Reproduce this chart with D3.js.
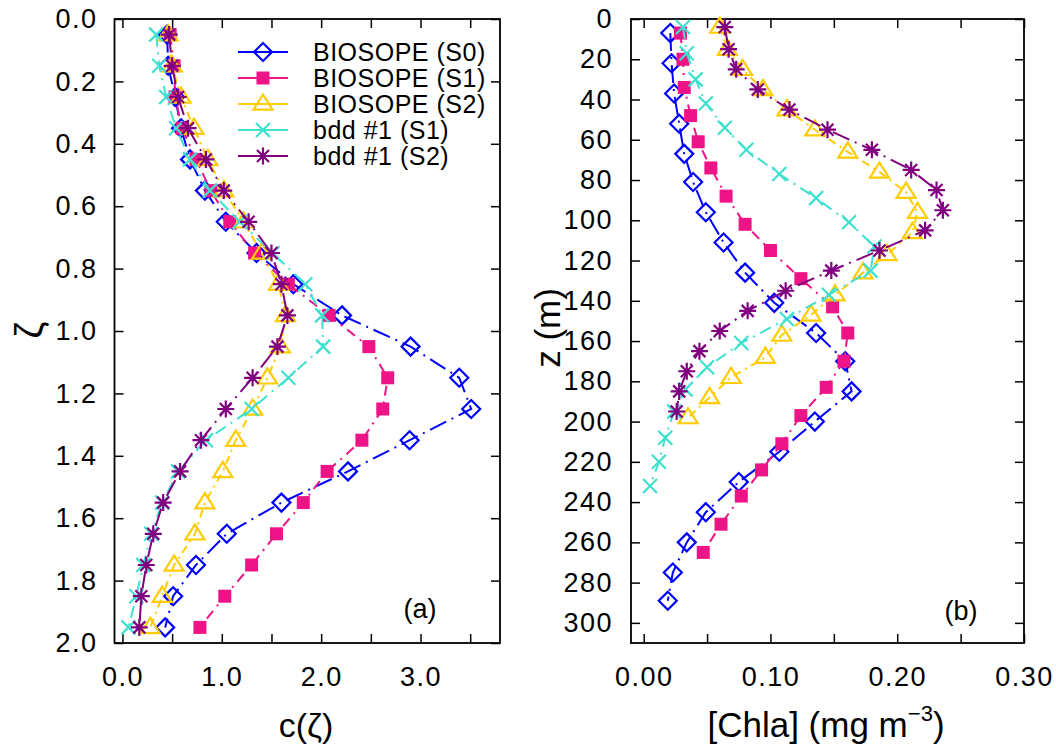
<!DOCTYPE html>
<html>
<head>
<meta charset="utf-8">
<script src="https://cdn.jsdelivr.net/npm/d3@7"></script>
<style>
  body { margin: 0; background: #fff; }
  text { font-family: "Liberation Sans", Arial, sans-serif; fill: #000; }
</style>
</head>
<body>
<div class="boundary"></div>
<script>
// ---- data, panel (a): normalised profiles c(zeta)
var zeta = [0.05, 0.15, 0.25, 0.35, 0.45, 0.55, 0.65, 0.75, 0.85, 0.95,
            1.05, 1.15, 1.25, 1.35, 1.45, 1.55, 1.65, 1.75, 1.85, 1.95];
var cS0   = [0.45, 0.46, 0.53, 0.59, 0.68, 0.83, 1.04, 1.35, 1.72, 2.21, 2.90, 3.39, 3.51, 2.89, 2.27, 1.60, 1.05, 0.74, 0.51, 0.43];
var cS1   = [0.48, 0.52, 0.53, 0.60, 0.74, 0.89, 1.08, 1.33, 1.67, 2.08, 2.48, 2.67, 2.62, 2.41, 2.06, 1.82, 1.55, 1.30, 1.03, 0.78];
var cS2   = [0.46, 0.50, 0.59, 0.72, 0.86, 1.02, 1.22, 1.40, 1.57, 1.64, 1.59, 1.46, 1.31, 1.14, 1.01, 0.83, 0.73, 0.52, 0.40, 0.28];
var cBdd1 = [0.34, 0.37, 0.44, 0.54, 0.68, 0.88, 1.18, 1.51, 1.84, 2.01, 2.02, 1.67, 1.30, 0.84, 0.56, 0.40, 0.29, 0.21, 0.14, 0.06];
var cBdd2 = [0.47, 0.50, 0.56, 0.66, 0.84, 1.02, 1.27, 1.50, 1.60, 1.66, 1.56, 1.31, 1.04, 0.79, 0.58, 0.41, 0.31, 0.24, 0.19, 0.17];

// ---- data, panel (b): [Chla] against depth
var zS0   = [7, 22, 37, 52, 67, 81, 96, 111, 126, 141, 156, 170, 185, 200, 215, 230, 245, 260, 275, 289];
var chlS0 = [0.021, 0.022, 0.024, 0.028, 0.032, 0.039, 0.049, 0.063, 0.080, 0.103, 0.136, 0.159, 0.164, 0.135, 0.107, 0.075, 0.049, 0.034, 0.023, 0.019];
var zS1   = [7, 20, 34, 48, 61, 74, 88, 102, 115, 129, 143, 156, 170, 183, 197, 211, 224, 237, 251, 265];
var chlS1 = [0.029, 0.031, 0.032, 0.037, 0.043, 0.053, 0.065, 0.080, 0.100, 0.124, 0.149, 0.161, 0.158, 0.144, 0.124, 0.109, 0.093, 0.077, 0.061, 0.047];
var zS2   = [4, 15, 25, 35, 45, 55, 66, 76, 86, 96, 106, 117, 126, 137, 147, 157, 168, 178, 188, 198];
var chlS2 = [0.060, 0.066, 0.078, 0.094, 0.113, 0.135, 0.161, 0.186, 0.207, 0.216, 0.212, 0.192, 0.173, 0.151, 0.132, 0.109, 0.096, 0.069, 0.052, 0.035];
var zBdd1   = [4, 17, 30, 42, 54, 65, 77, 89, 101, 113, 125, 137, 149, 161, 173, 184, 195, 208, 220, 232];
var chlBdd1 = [0.031, 0.034, 0.041, 0.049, 0.064, 0.081, 0.107, 0.136, 0.162, 0.182, 0.179, 0.146, 0.113, 0.077, 0.050, 0.033, 0.024, 0.017, 0.012, 0.005];
var zBdd2   = [4, 15, 25, 35, 45, 55, 65, 75, 85, 95, 105, 115, 125, 135, 145, 155, 165, 175, 185, 195];
var chlBdd2 = [0.064, 0.067, 0.073, 0.090, 0.115, 0.145, 0.180, 0.211, 0.231, 0.236, 0.222, 0.186, 0.148, 0.112, 0.082, 0.060, 0.044, 0.034, 0.028, 0.026];

var names = ["BIOSOPE (S0)", "BIOSOPE (S1)", "BIOSOPE (S2)", "bdd #1 (S1)", "bdd #1 (S2)"];

var ticksAx = [0, 0.5, 1, 1.5, 2, 2.5, 3, 3.5];
var ticksAy = [0, 0.2, 0.4, 0.6, 0.8, 1.0, 1.2, 1.4, 1.6, 1.8, 2.0];
var ticksBx = [0, 0.05, 0.10, 0.15, 0.20, 0.25, 0.30];
var ticksBy = [0, 20, 40, 60, 80, 100, 120, 140, 160, 180, 200, 220, 240, 260, 280, 300];

// ---- styles per series
var styles = [
  {color: "#0000ff", dash: "18,6,2,6",   marker: "diamond"},
  {color: "#ee1487", dash: "10,6,2,6",   marker: "square"},
  {color: "#ffcc00", dash: "8,5,2,5",    marker: "triangle"},
  {color: "#40e0d0", dash: "12,6,2,6",   marker: "cross"},
  {color: "#800080", dash: "18,6,2,6",   marker: "star"}
];

var width = 1056, height = 747;
var svg = d3.select(".boundary").append("svg")
  .attr("width", width).attr("height", height)
  .style("display", "block");

function markerPath(type) {
  var p = d3.path();
  if (type == "diamond") {
    var r = 9;
    p.moveTo(0, -r); p.lineTo(r, 0); p.lineTo(0, r); p.lineTo(-r, 0); p.closePath();
  } else if (type == "square") {
    var s = 6.5;
    p.rect(-s, -s, 2*s, 2*s);
  } else if (type == "triangle") {
    var r = 9.5;
    p.moveTo(0, -r); p.lineTo(r, r*0.6); p.lineTo(-r, r*0.6); p.closePath();
  } else if (type == "cross") {
    var r = 7;
    p.moveTo(-r, -r); p.lineTo(r, r); p.moveTo(-r, r); p.lineTo(r, -r);
  } else if (type == "star") {
    var r = 8.5, d = 6;
    p.moveTo(-r, 0); p.lineTo(r, 0); p.moveTo(0, -r); p.lineTo(0, r);
    p.moveTo(-d, -d); p.lineTo(d, d); p.moveTo(-d, d); p.lineTo(d, -d);
  }
  return p.toString();
}

function drawMarker(sel, st) {
  sel.append("path").attr("d", markerPath(st.marker))
    .attr("fill", st.marker == "square" ? st.color : "none")
    .attr("stroke", st.marker == "square" ? "none" : st.color)
    .attr("stroke-width", 2.2);
}

function panel(opts) {
  var x = d3.scaleLinear().domain(opts.xdom).range([opts.left, opts.right]);
  var y = d3.scaleLinear().domain(opts.ydom).range([opts.top, opts.bottom]);
  var g = svg.append("g");

  // axes with inward ticks, mirrored on top and right
  g.append("g").attr("transform", "translate(0," + opts.bottom + ")")
    .call(d3.axisBottom(x).tickValues(opts.xticks).tickSize(-9).tickPadding(24).tickFormat(opts.xfmt));
  g.append("g").attr("transform", "translate(0," + opts.top + ")")
    .call(d3.axisTop(x).tickValues(opts.xticks).tickSize(-9).tickFormat(""));
  g.append("g").attr("transform", "translate(" + opts.left + ",0)")
    .call(d3.axisLeft(y).tickValues(opts.yticks).tickSize(-9).tickPadding(opts.ypad).tickFormat(opts.yfmt));
  g.append("g").attr("transform", "translate(" + opts.right + ",0)")
    .call(d3.axisRight(y).tickValues(opts.yticks).tickSize(-9).tickFormat(""));
  g.selectAll(".domain").remove();
  g.selectAll(".tick line").attr("stroke", "#000").attr("stroke-width", 1.5);
  g.selectAll(".tick text").style("font-size", "27px").style("letter-spacing", "1.5px")
    .attr("fill", "#000")
    .style("font-family", "'Liberation Sans', Arial, sans-serif");

  g.append("rect").attr("x", opts.left).attr("y", opts.top)
    .attr("width", opts.right - opts.left).attr("height", opts.bottom - opts.top)
    .attr("fill", "none").attr("stroke", "#000").attr("stroke-width", 1.8);

  var line = d3.line().x(function(d){ return x(d[0]); }).y(function(d){ return y(d[1]); });

  opts.series.forEach(function(s, i) {
    var st = styles[i];
    var pts = s.xs.map(function(v, k){ return [v, s.ys[k]]; });
    g.append("path").datum(pts).attr("d", line)
      .attr("fill", "none").attr("stroke", st.color).attr("stroke-width", 2)
      .attr("stroke-dasharray", st.dash);
    g.append("g").selectAll("g").data(pts).enter().append("g")
      .attr("transform", function(d){ return "translate(" + x(d[0]) + "," + y(d[1]) + ")"; })
      .each(function(){ drawMarker(d3.select(this), st); });
  });

  g.append("text").attr("x", opts.tagX).attr("y", opts.tagY)
    .attr("text-anchor", "middle").style("font-size", "27px").text(opts.tag);
  return g;
}

panel({
  left: 114.5, right: 500, top: 19, bottom: 643,
  xdom: [-0.08, 3.8], ydom: [0, 2],
  xticks: ticksAx, yticks: ticksAy, ypad: 17,
  xfmt: function(d){ return Number.isInteger(d) ? d3.format(".1f")(d) : ""; },
  yfmt: d3.format(".1f"),
  series: [
    {xs: cS0, ys: zeta}, {xs: cS1, ys: zeta}, {xs: cS2, ys: zeta},
    {xs: cBdd1, ys: zeta}, {xs: cBdd2, ys: zeta}
  ],
  tag: "(a)", tagX: 420, tagY: 618
});

panel({
  left: 631, right: 1024, top: 19, bottom: 643,
  xdom: [-0.01, 0.30], ydom: [0, 310],
  xticks: ticksBx, yticks: ticksBy, ypad: 18,
  xfmt: function(d){ return Math.round(d*100) % 10 == 0 ? d3.format(".2f")(d) : ""; },
  yfmt: d3.format("d"),
  series: [
    {xs: chlS0, ys: zS0}, {xs: chlS1, ys: zS1}, {xs: chlS2, ys: zS2},
    {xs: chlBdd1, ys: zBdd1}, {xs: chlBdd2, ys: zBdd2}
  ],
  tag: "(b)", tagX: 961, tagY: 620
});

// legend (panel a)
var legend = svg.append("g").attr("transform", "translate(238,52)")
  .selectAll("g").data(names).enter().append("g")
  .attr("transform", function(d, i){ return "translate(0," + i*26 + ")"; });
legend.append("line").attr("x1", 0).attr("x2", 50).attr("y1", 0).attr("y2", 0)
  .attr("stroke", function(d, i){ return styles[i].color; }).attr("stroke-width", 2);
legend.append("g").attr("transform", "translate(25,0)")
  .each(function(d, i){ drawMarker(d3.select(this), styles[i]); });
legend.append("text").attr("x", 75).attr("y", 9).style("font-size", "25px")
  .style("letter-spacing", "0.5px")
  .text(function(d){ return d; });

// axis titles
svg.append("text").attr("transform", "translate(42,330) rotate(-90)")
  .attr("text-anchor", "middle").style("font-size", "38px").text("ζ");
svg.append("text").attr("x", 306).attr("y", 737)
  .attr("text-anchor", "middle").style("font-size", "34px").text("c(ζ)");
svg.append("text").attr("transform", "translate(560,328) rotate(-90)")
  .attr("text-anchor", "middle").style("font-size", "35px").text("z (m)");
var xt = svg.append("text").attr("x", 826).attr("y", 737)
  .attr("text-anchor", "middle").style("font-size", "35px");
xt.append("tspan").text("[Chla] (mg m");
xt.append("tspan").attr("dy", -16).style("font-size", "22px").text("−3");
xt.append("tspan").attr("dy", 16).text(")");
</script>
</body>
</html>
